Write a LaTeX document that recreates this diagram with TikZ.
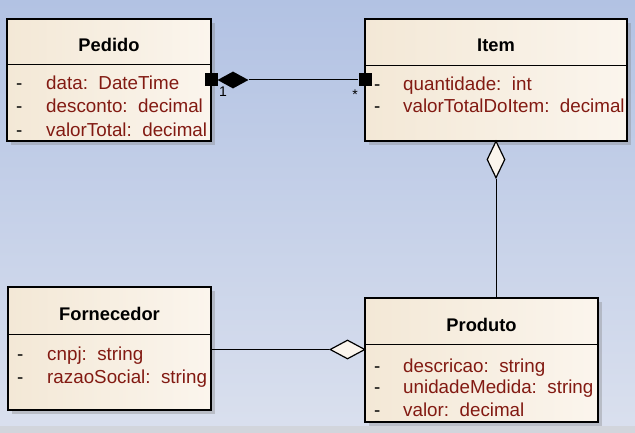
\documentclass[tikz,border=0pt]{standalone}
\usepackage{fontspec}
\setmainfont{Liberation Sans}
\usepackage{tikz}
\usepackage{xcolor}
\usetikzlibrary{shapes.geometric,shadows}
\definecolor{bgtop}{RGB}{178,194,227}
\definecolor{bgbottom}{RGB}{218,224,238}
\definecolor{creamA}{RGB}{243,232,214}
\definecolor{creamB}{RGB}{251,245,237}
\definecolor{attrred}{RGB}{130,26,18}
\tikzstyle{classbox} = [rectangle, draw = black, line width = 1.3pt, left color = creamA, right color = creamB, inner sep = 0pt, drop shadow = {shadow xshift = 4pt, shadow yshift = -4pt, opacity = 0.35}]
\tikzstyle{classname} = [anchor = base, inner sep = 0pt, font = \fontsize{18.3}{21}\bfseries\selectfont]
\tikzstyle{attr} = [anchor = base west, inner sep = 0pt, text = attrred, font = \fontsize{18.8}{21}\selectfont]
\tikzstyle{vis} = [anchor = base west, inner sep = 0pt, font = \fontsize{18.8}{21}\selectfont]
\tikzstyle{mult} = [anchor = base, inner sep = 0pt, font = \fontsize{14}{16}\selectfont]
\tikzstyle{endsquare} = [rectangle, fill = black, inner sep = 0pt, minimum size = 13pt]
\tikzstyle{fulldiamond} = [diamond, fill = black, inner sep = 0pt]
\tikzstyle{opendiamond} = [diamond, draw = black, line width = 1.2pt, fill = creamB, inner sep = 0pt]

\begin{document}
\begin{tikzpicture}[x = 1pt, y = 1pt]
            \shade [top color = bgtop, bottom color = bgbottom] (0, 0) rectangle (635, -433);
            \fill [black!20, opacity = 0.5] (0, -426) rectangle (635, -433);

            % classes
            \node (pedido) at (109, -80) [classbox, minimum width = 204pt, minimum height = 122pt] {};
            \node (item) at (496, -80) [classbox, minimum width = 262pt, minimum height = 122pt] {};
            \node (fornecedor) at (109.5, -348.5) [classbox, minimum width = 203pt, minimum height = 123pt] {};
            \node (produto) at (481.5, -360) [classbox, minimum width = 233pt, minimum height = 124pt] {};
            \draw [line width = 1.1pt] ([yshift = -46pt]pedido.north west) -- ([yshift = -46pt]pedido.north east);
            \draw [line width = 1.1pt] ([yshift = -47pt]item.north west) -- ([yshift = -47pt]item.north east);
            \draw [line width = 1.1pt] ([yshift = -48pt]fornecedor.north west) -- ([yshift = -48pt]fornecedor.north east);
            \draw [line width = 1.1pt] ([yshift = -47pt]produto.north west) -- ([yshift = -47pt]produto.north east);

            \node (pedidoname) at (109, -52) [classname] {Pedido};
            \node (pedidod1) at (16, -90) [vis] {-};
            \node (pedidod2) at (16, -113) [vis] {-};
            \node (pedidod3) at (16, -137) [vis] {-};
            \node (pedidoa1) at (46, -90) [attr] {data:\ \ DateTime};
            \node (pedidoa2) at (46, -113) [attr] {desconto:\ \ decimal};
            \node (pedidoa3) at (46, -137) [attr] {valorTotal:\ \ decimal};

            \node (itemname) at (496, -52) [classname] {Item};
            \node (itemd1) at (374, -91) [vis] {-};
            \node (itemd2) at (374, -113) [vis] {-};
            \node (itema1) at (403, -91) [attr] {quantidade:\ \ int};
            \node (itema2) at (403, -113) [attr] {valorTotalDoItem:\ \ decimal};

            \node (fornecedorname) at (109.5, -320) [classname] {Fornecedor};
            \node (fornecedord1) at (17, -360) [vis] {-};
            \node (fornecedord2) at (17, -383) [vis] {-};
            \node (fornecedora1) at (47, -360) [attr] {cnpj:\ \ string};
            \node (fornecedora2) at (47, -383) [attr] {razaoSocial:\ \ string};

            \node (produtoname) at (481.5, -331) [classname] {Produto};
            \node (produtod1) at (374, -372) [vis] {-};
            \node (produtod2) at (374, -393) [vis] {-};
            \node (produtod3) at (374, -416) [vis] {-};
            \node (produtoa1) at (403, -372) [attr] {descricao:\ \ string};
            \node (produtoa2) at (403, -393) [attr] {unidadeMedida:\ \ string};
            \node (produtoa3) at (403, -416) [attr] {valor:\ \ decimal};

            % associations
            \node (pedidoend) at (211, -80) [endsquare] {};
            \node (pedidodiamond) at (233, -80) [fulldiamond, minimum width = 31pt, minimum height = 17pt] {};
            \node (itemend) at (365, -80) [endsquare] {};
            \draw [line width = 1pt] (pedidodiamond.east) -- (itemend.west);
            \node (pedidomult) at (223, -97) [mult] {1};
            \node (itemmult) at (355, -100) [mult] {*};

            \node (itemdiamond) at (496, -159.5) [opendiamond, minimum width = 18pt, minimum height = 37pt] {};
            \draw [line width = 1pt] (itemdiamond.south) -- (produto.north -| itemdiamond.south);

            \node (produtodiamond) at (347.5, -349.5) [opendiamond, minimum width = 35pt, minimum height = 19pt] {};
            \draw [line width = 1pt] (fornecedor.east |- produtodiamond.west) -- (produtodiamond.west);
        \end{tikzpicture}
\end{document}
